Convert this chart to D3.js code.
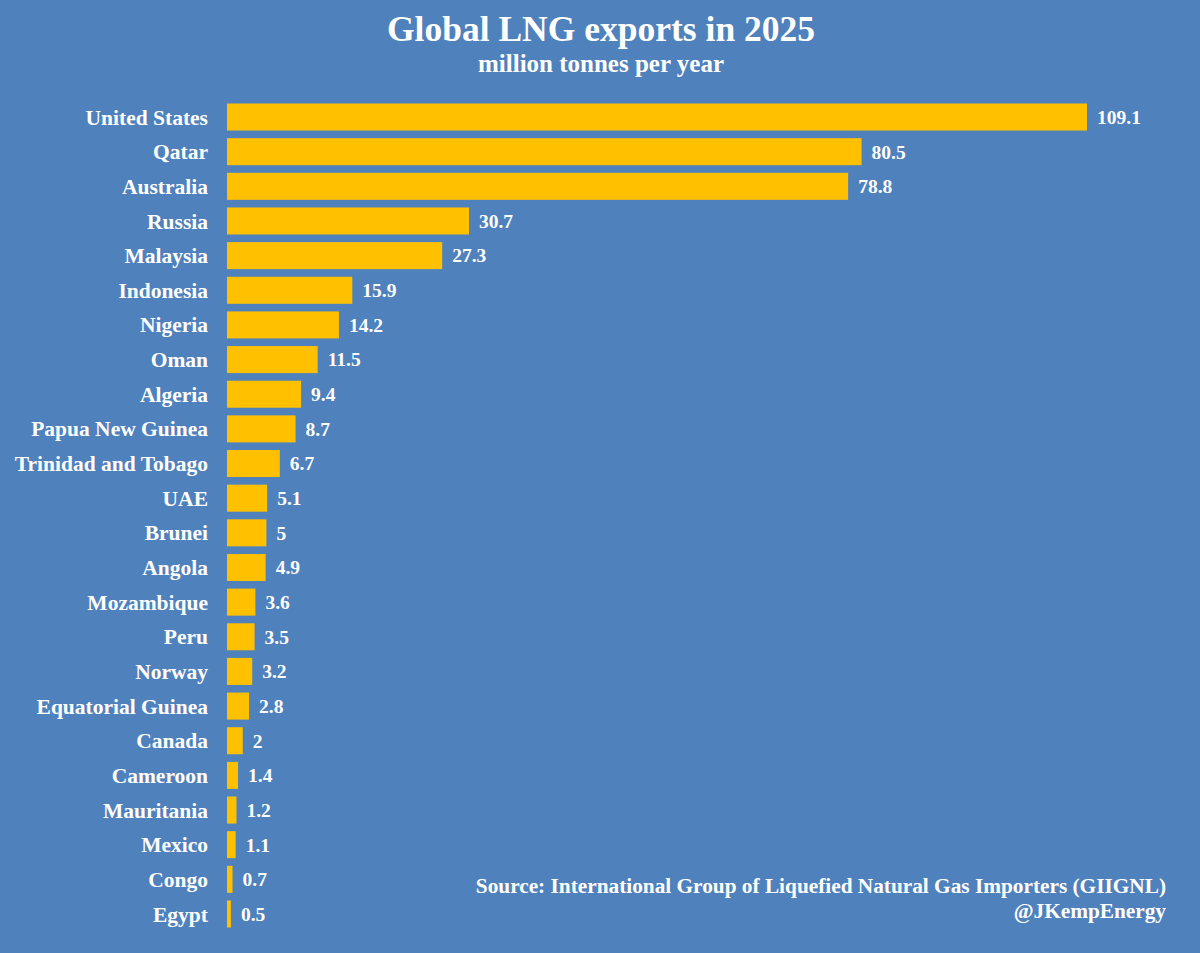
<!DOCTYPE html>
<html><head><meta charset="utf-8">
<script src="https://cdn.jsdelivr.net/npm/d3@7"></script>
<style>
html,body{margin:0;padding:0;background:#4F81BD;}
svg{display:block;}
text{font-family:"Liberation Serif","Times New Roman",serif;font-weight:bold;fill:#fff;}
</style></head>
<body><svg id="c" width="1200" height="953"></svg>
<script>
const countries = ["United States","Qatar","Australia","Russia","Malaysia","Indonesia","Nigeria","Oman","Algeria","Papua New Guinea","Trinidad and Tobago","UAE","Brunei","Angola","Mozambique","Peru","Norway","Equatorial Guinea","Canada","Cameroon","Mauritania","Mexico","Congo","Egypt"];
const exportsMt = [109.1,80.5,78.8,30.7,27.3,15.9,14.2,11.5,9.4,8.7,6.7,5.1,5,4.9,3.6,3.5,3.2,2.8,2,1.4,1.2,1.1,0.7,0.5];
const titleText = "Global LNG exports in 2025";
const subtitleText = "million tonnes per year";
const sourceText = "Source: International Group of Liquefied Natural Gas Importers (GIIGNL)";
const handleText = "@JKempEnergy";

const svg = d3.select("#c");
svg.append("rect").attr("width",1200).attr("height",953).attr("fill","#4F81BD");

const x = d3.scaleLinear().domain([0,109.1]).range([227,1087]);
const y = d3.scaleBand().domain(countries).range([99.7,931.3]).paddingInner(0.22).paddingOuter(0.11);

const data = countries.map((c,i)=>({c, v: exportsMt[i]}));

svg.append("g").selectAll("rect").data(data).join("rect")
  .attr("x", x(0)).attr("y", d=>y(d.c))
  .attr("width", d=>x(d.v)-x(0)).attr("height", y.bandwidth())
  .attr("fill","#FFC000");

svg.append("g").selectAll("text").data(data).join("text")
  .attr("x", 208).attr("y", d=>y(d.c)+y.bandwidth()/2)
  .attr("dy","0.35em").attr("text-anchor","end").attr("font-size",21.5)
  .text(d=>d.c);

svg.append("g").selectAll("text").data(data).join("text")
  .attr("x", d=>x(d.v)+10).attr("y", d=>y(d.c)+y.bandwidth()/2)
  .attr("dy","0.35em").attr("font-size",19.5)
  .text(d=>String(d.v));

svg.append("text").attr("x",601).attr("y",41).attr("text-anchor","middle").attr("font-size",35.5).text(titleText);
svg.append("text").attr("x",601).attr("y",72).attr("text-anchor","middle").attr("font-size",25).text(subtitleText);
svg.append("text").attr("x",1166).attr("y",893).attr("text-anchor","end").attr("font-size",21.3).text(sourceText);
svg.append("text").attr("x",1166).attr("y",918).attr("text-anchor","end").attr("font-size",21.3).text(handleText);
</script></body></html>
